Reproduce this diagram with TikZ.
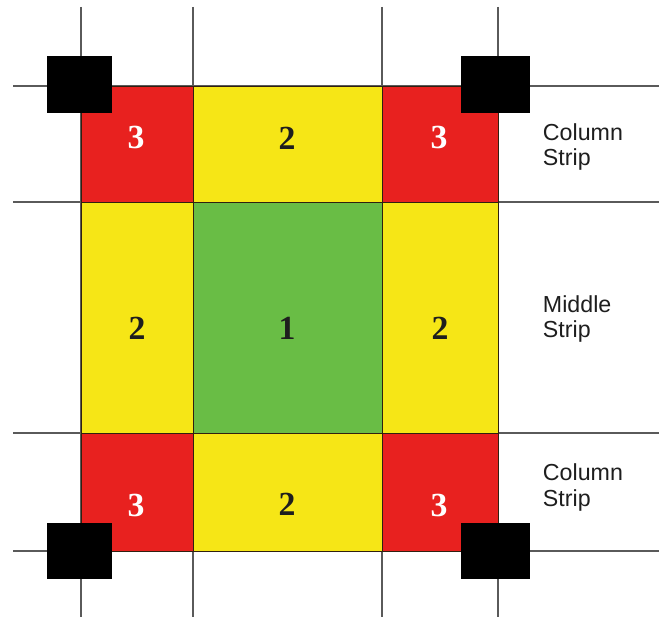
\documentclass[tikz,border=0pt]{standalone}
\usepackage{fontspec}
\setmainfont{Liberation Serif}
\setsansfont{Liberation Sans}
\usetikzlibrary{positioning}
\definecolor{cred}{HTML}{E8211F}
\definecolor{cyel}{HTML}{F6E616}
\definecolor{cgrn}{HTML}{69BD45}
\definecolor{cgrid}{HTML}{5A5A5A}
\definecolor{cink}{HTML}{1E1E1E}

\tikzset{
  panel/.style={draw=black!75!brown,line width=0.6pt},
  num/.style={font=\bfseries\fontsize{24}{24}\selectfont,text=cink},
  stripname/.style={font=\sffamily\fontsize{16.5}{17.8}\selectfont,text=cink,align=left,anchor=west},
}

\begin{document}
\begin{tikzpicture}[x=0.025cm,y=-0.025cm]
        \useasboundingbox (0,0) rectangle (666,617);
        \fill[white] (0,0) rectangle (666,617);
        % grid lines of the slab
        \foreach \x in {81,193,382,498}
          \draw[cgrid,line width=1.4pt] (\x,7) -- (\x,617);
        \foreach \y in {86,202,433,551}
          \draw[cgrid,line width=1.4pt] (13,\y) -- (659,\y);
        % panel regions
        \filldraw[panel,fill=cred] (81,86) rectangle (193,202);
        \filldraw[panel,fill=cyel] (193,86) rectangle (382,202);
        \filldraw[panel,fill=cred] (382,86) rectangle (498,202);
        \filldraw[panel,fill=cyel] (81,202) rectangle (193,433);
        \filldraw[panel,fill=cgrn] (193,202) rectangle (382,433);
        \filldraw[panel,fill=cyel] (382,202) rectangle (498,433);
        \filldraw[panel,fill=cred] (81,433) rectangle (193,551);
        \filldraw[panel,fill=cyel] (193,433) rectangle (382,551);
        \filldraw[panel,fill=cred] (382,433) rectangle (498,551);
        % columns
        \fill[black] (47,56) rectangle (112,113);
        \fill[black] (461,56) rectangle (530,113);
        \fill[black] (47,523) rectangle (112,579);
        \fill[black] (461,523) rectangle (530,579);
        % zone numbers
        \node[num,text=white] (ctl) at (136,137) {3};
        \node[num] (et) at (287,138) {2};
        \node[num,text=white] (ctr) at (439,137) {3};
        \node[num] (el) at (137,328) {2};
        \node[num] (mid) at (287,328) {1};
        \node[num] (er) at (440,328) {2};
        \node[num,text=white] (cbl) at (136,505) {3};
        \node[num] (eb) at (287,504) {2};
        \node[num,text=white] (cbr) at (439,505) {3};
        % strip labels
        \node[stripname] (cstop) at (538,147) {Column\\Strip};
        \node[stripname] (ms) at (538,319) {Middle\\Strip};
        \node[stripname] (csbot) at (538,487.5) {Column\\Strip};
      \end{tikzpicture}
\end{document}
